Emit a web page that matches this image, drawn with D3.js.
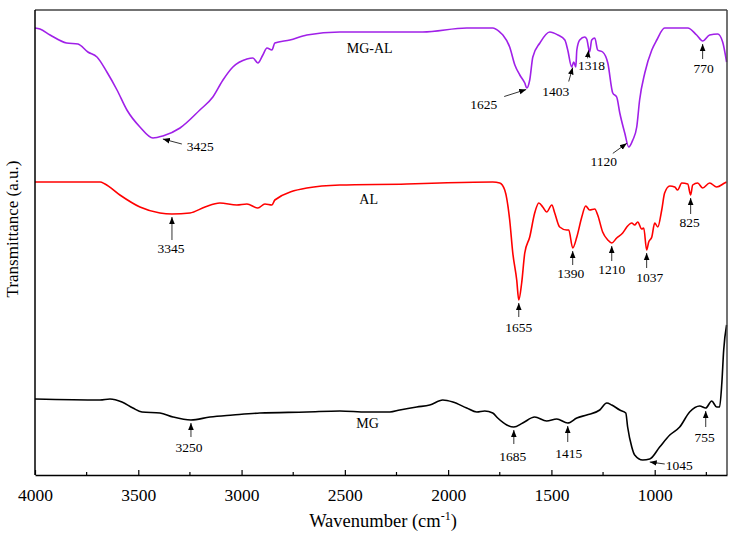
<!DOCTYPE html>
<html>
<head>
<meta charset="utf-8">
<script src="https://cdn.jsdelivr.net/npm/d3@7"></script>
<style>
  body { margin: 0; background: #fff; }
  text { font-family: "Liberation Serif", "Times New Roman", serif; }
</style>
</head>
<body>
<svg id="chart" width="734" height="540"></svg>
<script>
// FTIR spectra: wavenumber (cm-1) and transmittance (a.u.)

const mgalWn = [4000, 3976, 3927, 3847, 3792, 3744, 3700, 3652, 3603, 3555, 3492, 3429, 3381, 3298, 3202, 3139, 3090, 3042, 2974, 2945, 2921, 2897, 2877, 2853, 2839, 2766, 2684, 2524, 2365, 2123, 1910, 1784, 1750, 1735, 1702, 1677, 1653, 1629, 1619, 1605, 1590, 1556, 1508, 1469, 1435, 1421, 1402, 1392, 1382, 1377, 1363, 1339, 1329, 1315, 1305, 1290, 1276, 1252, 1227, 1203, 1184, 1169, 1145, 1126, 1106, 1087, 1073, 1048, 1014, 990, 952, 879, 840, 797, 768, 734, 695, 671, 652];
const mgalT  = [447, 446, 440, 432, 431, 423, 418, 403, 385, 365, 348, 337, 339, 347, 365, 378, 395, 408, 416, 417, 412, 420, 427, 425, 432, 435, 440, 443, 443, 443, 447, 447, 443, 440, 428, 410, 400, 392, 387, 395, 418, 432, 443, 440, 435, 425, 408, 413, 408, 425, 435, 438, 436, 423, 435, 437, 425, 423, 412, 382, 378, 362, 342, 328, 335, 348, 375, 402, 425, 435, 447, 447, 447, 440, 434, 440, 441, 433, 413];

const alWn = [4000, 3685, 3661, 3589, 3492, 3395, 3337, 3250, 3177, 3105, 3023, 2974, 2921, 2887, 2853, 2839, 2684, 2524, 2200, 2040, 1784, 1750, 1726, 1702, 1687, 1668, 1658, 1644, 1629, 1605, 1581, 1561, 1542, 1523, 1498, 1484, 1460, 1426, 1416, 1397, 1377, 1353, 1334, 1315, 1290, 1276, 1252, 1227, 1208, 1184, 1155, 1135, 1111, 1097, 1082, 1063, 1053, 1039, 1029, 1014, 1000, 985, 966, 952, 927, 903, 889, 869, 840, 826, 816, 792, 768, 734, 700, 661, 652];
const alT  = [293, 293, 291, 280, 268, 262, 261, 262, 268, 272, 270, 271, 267, 271, 270, 275, 287, 290, 291, 292, 293, 292, 285, 255, 222, 195, 175, 192, 222, 238, 262, 272, 268, 263, 270, 262, 248, 245, 245, 227, 238, 258, 269, 265, 266, 260, 243, 235, 232, 237, 242, 248, 252, 250, 253, 246, 247, 225, 233, 238, 252, 248, 265, 282, 289, 288, 285, 292, 291, 280, 290, 292, 287, 292, 288, 292, 293];

const mgWn = [4000, 3685, 3637, 3579, 3526, 3482, 3395, 3332, 3245, 3153, 3042, 2911, 2684, 2524, 2394, 2282, 2234, 2152, 2089, 2026, 1977, 1910, 1861, 1823, 1784, 1760, 1716, 1682, 1639, 1581, 1523, 1474, 1421, 1377, 1329, 1266, 1232, 1208, 1169, 1140, 1131, 1111, 1097, 1058, 1024, 976, 927, 879, 831, 782, 753, 724, 700, 686, 675, 666, 652];
const mgT  = [76, 75, 76, 73, 67, 63, 62, 58, 55, 58, 60, 62, 63, 64, 63, 63, 65, 68, 70, 75, 73, 67, 63, 64, 62, 57, 50, 48, 52, 58, 54, 56, 52, 57, 60, 65, 72, 70, 65, 62, 48, 28, 20, 15, 16, 28, 40, 48, 63, 69, 67, 74, 68, 68, 92, 125, 150];

const seriesNames = ['MG-AL', 'AL', 'MG'];

// peak labels: series, wavenumber the arrow points at, text
const peakSeries = ['MG-AL', 'MG-AL', 'MG-AL', 'MG-AL', 'MG-AL', 'MG-AL', 'AL', 'AL', 'AL', 'AL', 'AL', 'AL', 'MG', 'MG', 'MG', 'MG', 'MG'];
const peakWn     = [3381, 1622, 1397, 1320, 1135, 768, 3337, 1658, 1397, 1208, 1039, 826, 3245, 1682, 1421, 1024, 753];
const peakText   = ['3425', '1625', '1403', '1318', '1120', '770', '3345', '1655', '1390', '1210', '1037', '825', '3250', '1685', '1415', '1045', '755'];

const xTicks = [4000, 3500, 3000, 2500, 2000, 1500, 1000];
const xMinorTicks = [3750, 3250, 2750, 2250, 1750, 1250, 750];

// layout for labels: arrow tail offset and text offset from arrow tip (px)
const peakLayout = [
  { tail: [19, 5],  text: [24, 12], anchor: 'start' },
  { tail: [-22, 7], text: [-29, 19], anchor: 'end' },
  { tail: [-4, 14], text: [-17, 28], anchor: 'middle' },
  { tail: [-1, 8],  text: [3, 20],  anchor: 'middle' },
  { tail: [-14, 10], text: [-23, 23], anchor: 'middle' },
  { tail: [0, 15],  text: [1, 29],  anchor: 'middle' },
  { tail: [0, 23],  text: [-1, 36], anchor: 'middle' },
  { tail: [0, 14],  text: [0, 29],  anchor: 'middle' },
  { tail: [0, 14],  text: [-2, 27], anchor: 'middle' },
  { tail: [0, 15],  text: [0, 28],  anchor: 'middle' },
  { tail: [0, 15],  text: [3, 29],  anchor: 'middle' },
  { tail: [0, 16],  text: [-1, 29], anchor: 'middle' },
  { tail: [0, 14],  text: [-2, 29], anchor: 'middle' },
  { tail: [0, 14],  text: [-1, 31], anchor: 'middle' },
  { tail: [0, 16],  text: [1, 32],  anchor: 'middle' },
  { tail: [15, 2],  text: [16, 8],  anchor: 'start' },
  { tail: [0, 16],  text: [-1, 31], anchor: 'middle' }
];

const width = 734, height = 540;
const margin = { top: 10, right: 7, bottom: 65, left: 35 };

const svg = d3.select('#chart');

const x = d3.scaleLinear()
  .domain([4000, 650])
  .range([margin.left, width - margin.right]);

const y = d3.scaleLinear()
  .domain([0, 465])
  .range([height - margin.bottom, margin.top]);

const spectra = {
  'MG-AL': { wn: mgalWn, t: mgalT, color: '#a020e8', label: [2380, 422] },
  'AL':    { wn: alWn,   t: alT,   color: '#ff0000', label: [2385, 271] },
  'MG':    { wn: mgWn,   t: mgT,   color: '#000000', label: [2390, 47] }
};

const line = d3.line()
  .x(d => x(d[0]))
  .y(d => y(d[1]))
  .curve(d3.curveMonotoneX);

svg.append('rect')
  .attr('width', width).attr('height', height).attr('fill', '#fff');

// arrow head
svg.append('defs').append('marker')
  .attr('id', 'head')
  .attr('viewBox', '0 0 10 10')
  .attr('refX', 10).attr('refY', 5)
  .attr('markerWidth', 7).attr('markerHeight', 7)
  .attr('markerUnits', 'userSpaceOnUse')
  .attr('orient', 'auto')
  .append('path')
  .attr('d', 'M0,1 L10,5 L0,9 Z')
  .attr('fill', '#000');

// spectra
seriesNames.forEach(name => {
  const s = spectra[name];
  const pts = s.wn.map((w, i) => [w, s.t[i]]);
  svg.append('path')
    .datum(pts)
    .attr('fill', 'none')
    .attr('stroke', s.color)
    .attr('stroke-width', 1.6)
    .attr('stroke-linejoin', 'round')
    .attr('d', line);

  svg.append('text')
    .attr('x', x(s.label[0]))
    .attr('y', y(s.label[1]))
    .attr('text-anchor', 'middle')
    .attr('font-size', '14px')
    .attr('fill', '#000')
    .text(name);
});

// value of a spectrum at a wavenumber (linear between read points)
function valueAt(name, w) {
  const s = spectra[name];
  for (let i = 0; i < s.wn.length - 1; i++) {
    if (w <= s.wn[i] && w >= s.wn[i + 1]) {
      const f = (s.wn[i] - w) / (s.wn[i] - s.wn[i + 1]);
      return s.t[i] + f * (s.t[i + 1] - s.t[i]);
    }
  }
  return s.t[s.t.length - 1];
}

// peak annotations
peakText.forEach((label, i) => {
  const lay = peakLayout[i];
  const tx = x(peakWn[i]);
  const ty = y(valueAt(peakSeries[i], peakWn[i])) + 3;
  svg.append('line')
    .attr('x1', tx + lay.tail[0]).attr('y1', ty + lay.tail[1])
    .attr('x2', tx).attr('y2', ty)
    .attr('stroke', '#000')
    .attr('stroke-width', 0.8)
    .attr('marker-end', 'url(#head)');
  svg.append('text')
    .attr('x', tx + lay.text[0])
    .attr('y', ty + lay.text[1])
    .attr('text-anchor', lay.anchor)
    .attr('font-size', '13.5px')
    .attr('fill', '#000')
    .text(label);
});

// frame
svg.append('line')
  .attr('x1', margin.left).attr('x2', width - margin.right)
  .attr('y1', margin.top).attr('y2', margin.top)
  .attr('stroke', '#444').attr('stroke-width', 1.5);
svg.append('line')
  .attr('x1', width - margin.right).attr('x2', width - margin.right)
  .attr('y1', margin.top).attr('y2', height - margin.bottom)
  .attr('stroke', '#444').attr('stroke-width', 1.5);
svg.append('line')
  .attr('x1', margin.left).attr('x2', margin.left)
  .attr('y1', margin.top).attr('y2', height - margin.bottom)
  .attr('stroke', '#000').attr('stroke-width', 1.5);

// bottom axis, ticks pointing inward
const xAxis = svg.append('g')
  .attr('transform', `translate(0, ${height - margin.bottom})`)
  .call(d3.axisBottom(x).tickValues(xTicks).tickSizeInner(-5).tickSizeOuter(0).tickPadding(14).tickFormat(d3.format('d')));
xAxis.select('.domain').attr('stroke', '#000').attr('stroke-width', 1.5);
xAxis.selectAll('.tick line').attr('stroke', '#000').attr('stroke-width', 1.2);
xAxis.selectAll('.tick text')
  .attr('font-family', '"Liberation Serif", "Times New Roman", serif')
  .attr('font-size', '17.5px')
  .attr('fill', '#000');

svg.append('g')
  .selectAll('line')
  .data(xMinorTicks)
  .join('line')
  .attr('x1', d => x(d)).attr('x2', d => x(d))
  .attr('y1', height - margin.bottom).attr('y2', height - margin.bottom - 3)
  .attr('stroke', '#000').attr('stroke-width', 1.2);

// axis titles
const xTitle = svg.append('text')
  .attr('x', 383)
  .attr('y', 527)
  .attr('text-anchor', 'middle')
  .attr('font-size', '18.5px')
  .attr('fill', '#000');
xTitle.append('tspan').text('Wavenumber (cm');
xTitle.append('tspan').attr('font-size', '12px').attr('dy', -7).text('-1');
xTitle.append('tspan').attr('dy', 7).text(')');

svg.append('text')
  .attr('transform', 'translate(18, 229) rotate(-90)')
  .attr('text-anchor', 'middle')
  .attr('font-size', '17px')
  .attr('fill', '#000')
  .text('Transmittance (a.u.)');
</script>
</body>
</html>
